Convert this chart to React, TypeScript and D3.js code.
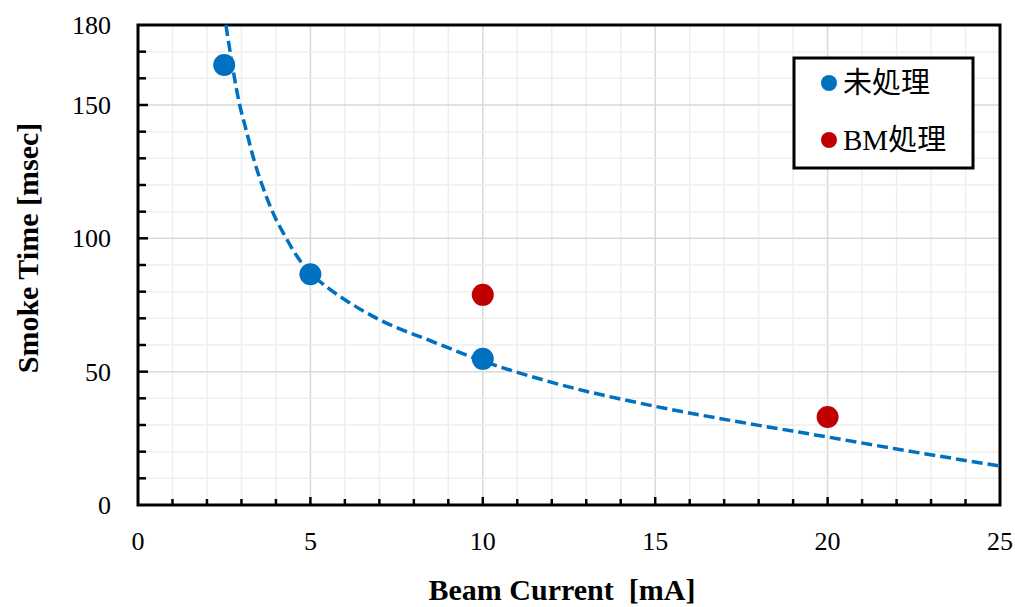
import React, { useRef, useEffect } from "react";
import * as d3 from "d3";

/* measured points */
const untreatedX = [2.5, 5, 10];
const untreatedY = [165, 86.5, 54.8];
const bmX = [10, 20];
const bmY = [78.8, 33];

/* dashed trend line */
const trendX = [2.55, 2.95, 3.15, 3.35, 3.6, 3.9, 4.3, 4.6, 5, 5.5, 6, 7, 8.5, 10, 12, 15, 17.5, 20, 22, 25];
const trendY = [180, 150, 140, 130, 120, 110, 100, 93.5, 87, 81.5, 77, 69.5, 61.5, 54, 46, 37, 31, 25.5, 21, 14.6];

const xTicks = [0, 5, 10, 15, 20, 25];
const yTicks = [0, 50, 100, 150, 180];
const legendLabels = ["未処理", "BM処理"];
const colors = ["#0070C0", "#C00000"];

const App = () => {
  const svgRef = useRef(null);

  const drawChart = () => {
    const W = 1015;
    const H = 607;
    const margin = { top: 25, right: 15, bottom: 102, left: 138 };
    const width = W - margin.left - margin.right;
    const height = H - margin.top - margin.bottom;

    d3.select(svgRef.current).selectAll("*").remove();
    const root = d3.select(svgRef.current).attr("width", W).attr("height", H);
    root.append("rect").attr("width", W).attr("height", H).attr("fill", "#fff");

    const svg = root.append("g").attr("transform", `translate(${margin.left}, ${margin.top})`);

    const x = d3.scaleLinear().domain([0, 25]).range([0, width]);
    const y = d3.scaleLinear().domain([0, 180]).range([height, 0]);

    /* grid */
    const xMinor = d3.range(1, 25);
    const yMinor = d3.range(10, 180, 10);
    svg
      .selectAll(".gx")
      .data(xMinor)
      .enter()
      .append("line")
      .attr("x1", (d) => x(d))
      .attr("x2", (d) => x(d))
      .attr("y1", 0)
      .attr("y2", height)
      .attr("stroke", (d) => (d % 5 === 0 ? "#d9d9d9" : "#eeeeee"))
      .attr("stroke-width", 1.5);
    svg
      .selectAll(".gy")
      .data(yMinor)
      .enter()
      .append("line")
      .attr("x1", 0)
      .attr("x2", width)
      .attr("y1", (d) => y(d))
      .attr("y2", (d) => y(d))
      .attr("stroke", (d) => (d % 50 === 0 ? "#d9d9d9" : "#eeeeee"))
      .attr("stroke-width", 1.5);

    /* inner ticks */
    svg
      .selectAll(".tx")
      .data(d3.range(1, 25))
      .enter()
      .append("line")
      .attr("x1", (d) => x(d))
      .attr("x2", (d) => x(d))
      .attr("y1", height)
      .attr("y2", (d) => height - (d % 5 === 0 ? 8 : 6))
      .attr("stroke", "#000")
      .attr("stroke-width", 2.5);
    svg
      .selectAll(".ty")
      .data(d3.range(10, 180, 10))
      .enter()
      .append("line")
      .attr("x1", 0)
      .attr("x2", (d) => (d % 50 === 0 ? 10 : 8))
      .attr("y1", (d) => y(d))
      .attr("y2", (d) => y(d))
      .attr("stroke", "#000")
      .attr("stroke-width", 2.5);

    /* frame */
    svg
      .append("rect")
      .attr("width", width)
      .attr("height", height)
      .attr("fill", "none")
      .attr("stroke", "#000")
      .attr("stroke-width", 3);

    /* tick labels */
    svg
      .selectAll(".xl")
      .data(xTicks)
      .enter()
      .append("text")
      .attr("x", (d) => x(d))
      .attr("y", height + 45)
      .attr("text-anchor", "middle")
      .style("font-family", "'Liberation Serif', serif")
      .style("font-size", "26px")
      .text((d) => d);
    svg
      .selectAll(".yl")
      .data(yTicks)
      .enter()
      .append("text")
      .attr("x", -27)
      .attr("y", (d) => y(d) + 9)
      .attr("text-anchor", "end")
      .style("font-family", "'Liberation Serif', serif")
      .style("font-size", "26px")
      .text((d) => d);

    /* axis titles */
    root
      .append("text")
      .attr("x", 562)
      .attr("y", 600)
      .attr("text-anchor", "middle")
      .style("font-family", "'Liberation Serif', serif")
      .style("font-size", "30px")
      .style("font-weight", "bold")
      .style("white-space", "pre")
      .text("Beam Current  [mA]");
    root
      .append("text")
      .attr("transform", "translate(38, 248) rotate(-90)")
      .attr("text-anchor", "middle")
      .style("font-family", "'Liberation Serif', serif")
      .style("font-size", "30px")
      .style("font-weight", "bold")
      .text("Smoke Time [msec]");

    /* trend line */
    const trend = trendX.map((d, i) => [d, trendY[i]]);
    const line = d3
      .line()
      .x((d) => x(d[0]))
      .y((d) => y(d[1]))
      .curve(d3.curveMonotoneX);
    svg
      .append("path")
      .datum(trend)
      .attr("fill", "none")
      .attr("stroke", colors[0])
      .attr("stroke-width", 3.5)
      .attr("stroke-dasharray", "11,5")
      .attr("d", line);

    /* points */
    svg
      .selectAll(".p0")
      .data(untreatedX)
      .enter()
      .append("circle")
      .attr("cx", (d) => x(d))
      .attr("cy", (d, i) => y(untreatedY[i]))
      .attr("r", 11)
      .attr("fill", colors[0]);
    svg
      .selectAll(".p1")
      .data(bmX)
      .enter()
      .append("circle")
      .attr("cx", (d) => x(d))
      .attr("cy", (d, i) => y(bmY[i]))
      .attr("r", 11)
      .attr("fill", colors[1]);

    /* legend */
    const lg = root.append("g").attr("transform", "translate(794, 58)");
    lg.append("rect")
      .attr("width", 179)
      .attr("height", 110)
      .attr("fill", "#fff")
      .attr("stroke", "#000")
      .attr("stroke-width", 3);
    legendLabels.forEach((name, i) => {
      lg.append("circle")
        .attr("cx", 35)
        .attr("cy", 25 + i * 57)
        .attr("r", 8)
        .attr("fill", colors[i]);
      lg.append("text")
        .attr("x", 49)
        .attr("y", 25 + i * 57 + 10)
        .style("font-family", "'Liberation Serif', 'Noto Sans CJK JP', serif")
        .style("font-size", "29px")
        .text(name);
    });
  };

  useEffect(() => {
    drawChart();
  }, []);

  return (
    <div style={{ position: "absolute", left: 0, top: 0 }}>
      <svg ref={svgRef} style={{ display: "block" }} />
    </div>
  );
};

export default App;
